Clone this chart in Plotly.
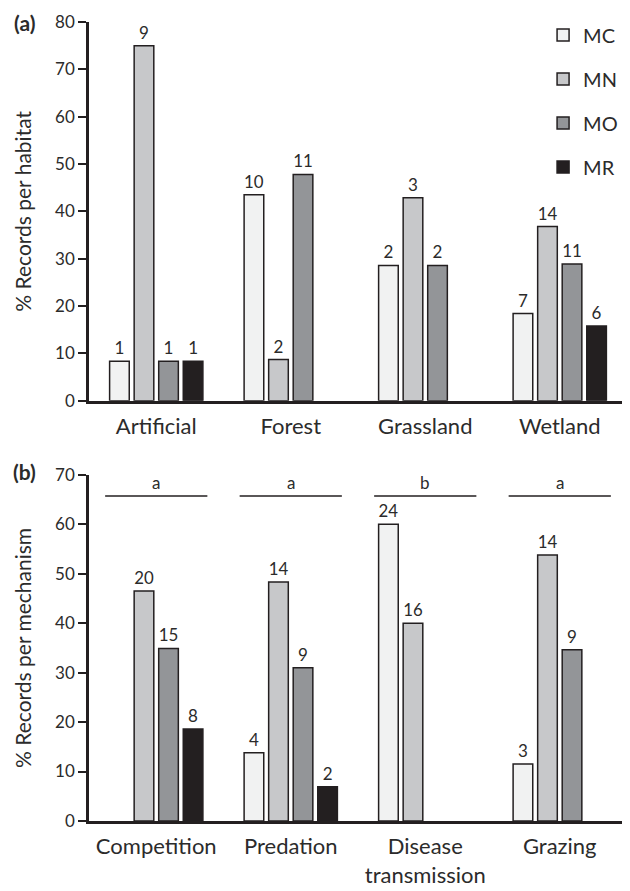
import plotly.graph_objects as go

# ---------------- data ----------------
series = ["MC", "MN", "MO", "MR"]
colors = ["#f1f2f2", "#c7c8ca", "#939598", "#231f20"]

habitats = ["Artificial", "Forest", "Grassland", "Wetland"]
hab_pct = {
    "MC": [8.33, 43.5, 28.57, 18.4],
    "MN": [75.0, 8.7, 42.86, 36.8],
    "MO": [8.33, 47.8, 28.57, 28.9],
    "MR": [8.33, None, None, 15.8],
}
hab_n = {
    "MC": ["1", "10", "2", "7"],
    "MN": ["9", "2", "3", "14"],
    "MO": ["1", "11", "2", "11"],
    "MR": ["1", "", "", "6"],
}

mechanisms = ["Competition", "Predation", "Disease<br>transmission", "Grazing"]
mech_pct = {
    "MC": [None, 13.8, 60.0, 11.5],
    "MN": [46.5, 48.3, 40.0, 53.8],
    "MO": [34.9, 31.0, None, 34.6],
    "MR": [18.6, 6.9, None, None],
}
mech_n = {
    "MC": ["", "4", "24", "3"],
    "MN": ["20", "14", "16", "14"],
    "MO": ["15", "9", "", "9"],
    "MR": ["8", "2", "", ""],
}
mech_letters = ["a", "a", "b", "a"]
letter_y = 65.7

FONT = "Lato"
INK = "#231f20"
TXT = "#2b2b2b"

fig = go.Figure()
for s, c in zip(series, colors):
    fig.add_trace(go.Bar(
        x=habitats, y=hab_pct[s], name=s, text=hab_n[s],
        textposition="outside", cliponaxis=False,
        textfont=dict(size=17, color=TXT, family=FONT),
        marker=dict(color=c, line=dict(color=INK, width=1.5)),
        xaxis="x", yaxis="y", legendgroup=s, showlegend=True,
    ))
for s, c in zip(series, colors):
    fig.add_trace(go.Bar(
        x=mechanisms, y=mech_pct[s], name=s, text=mech_n[s],
        textposition="outside", cliponaxis=False,
        textfont=dict(size=17, color=TXT, family=FONT),
        marker=dict(color=c, line=dict(color=INK, width=1.5)),
        xaxis="x2", yaxis="y2", legendgroup=s, showlegend=False,
    ))

shapes = []
annotations = []
for i, lab in enumerate(mech_letters):
    shapes.append(dict(type="line", xref="x2", yref="y2",
                       x0=i - 0.38, x1=i + 0.38, y0=letter_y, y1=letter_y,
                       line=dict(color=INK, width=1.5)))
    annotations.append(dict(xref="x2", yref="y2", x=i, y=letter_y + 0.3,
                            text=lab, showarrow=False, yanchor="bottom",
                            font=dict(size=17, color=TXT, family=FONT)))

annotations.append(dict(xref="paper", yref="paper", x=-0.119, y=0.9988,
                        text="<b>(a)</b>", showarrow=False,
                        xanchor="center", yanchor="middle",
                        font=dict(size=21, color=TXT, family=FONT)))
annotations.append(dict(xref="paper", yref="paper", x=-0.119, y=0.438,
                        text="<b>(b)</b>", showarrow=False,
                        xanchor="center", yanchor="middle",
                        font=dict(size=21, color=TXT, family=FONT)))

xcommon = dict(showline=True, linecolor=INK, linewidth=2.5, ticks="",
               showgrid=False, zeroline=False, range=[-0.5, 3.5],
               tickfont=dict(size=22, color=TXT, family=FONT),
               ticklabelstandoff=4)
ycommon = dict(showline=True, linecolor=INK, linewidth=2.5, ticks="outside",
               ticklen=8, tickwidth=2, tickcolor=INK, showgrid=False,
               zeroline=False, dtick=10,
               tickfont=dict(size=17, color=TXT, family=FONT))

# page body adds an 8px offset; figure is sized so that the plot sits where
# the reference has it
fig.update_layout(
    width=622, height=883,
    margin=dict(l=81, r=3, t=11, b=62),
    paper_bgcolor="white", plot_bgcolor="white",
    barmode="group", bargap=0.27, bargroupgap=0.2,
    font=dict(family=FONT, color=TXT),
    xaxis=dict(domain=[0, 1], anchor="y", **xcommon),
    yaxis=dict(domain=[0.526, 1], anchor="x", range=[0, 80],
               title=dict(text="% Records per habitat", standoff=18,
                          font=dict(size=21, color=TXT, family=FONT)),
               **ycommon),
    xaxis2=dict(domain=[0, 1], anchor="y2", **xcommon),
    yaxis2=dict(domain=[0, 0.4333], anchor="x2", range=[0, 70],
                title=dict(text="% Records per mechanism", standoff=18,
                           font=dict(size=21, color=TXT, family=FONT)),
                **ycommon),
    legend=dict(x=0.844, y=1.008, xanchor="left", yanchor="top",
                font=dict(size=20, color=TXT, family=FONT),
                tracegroupgap=15, bgcolor="rgba(0,0,0,0)"),
    shapes=shapes, annotations=annotations,
)

fig.write_html("out.html")
